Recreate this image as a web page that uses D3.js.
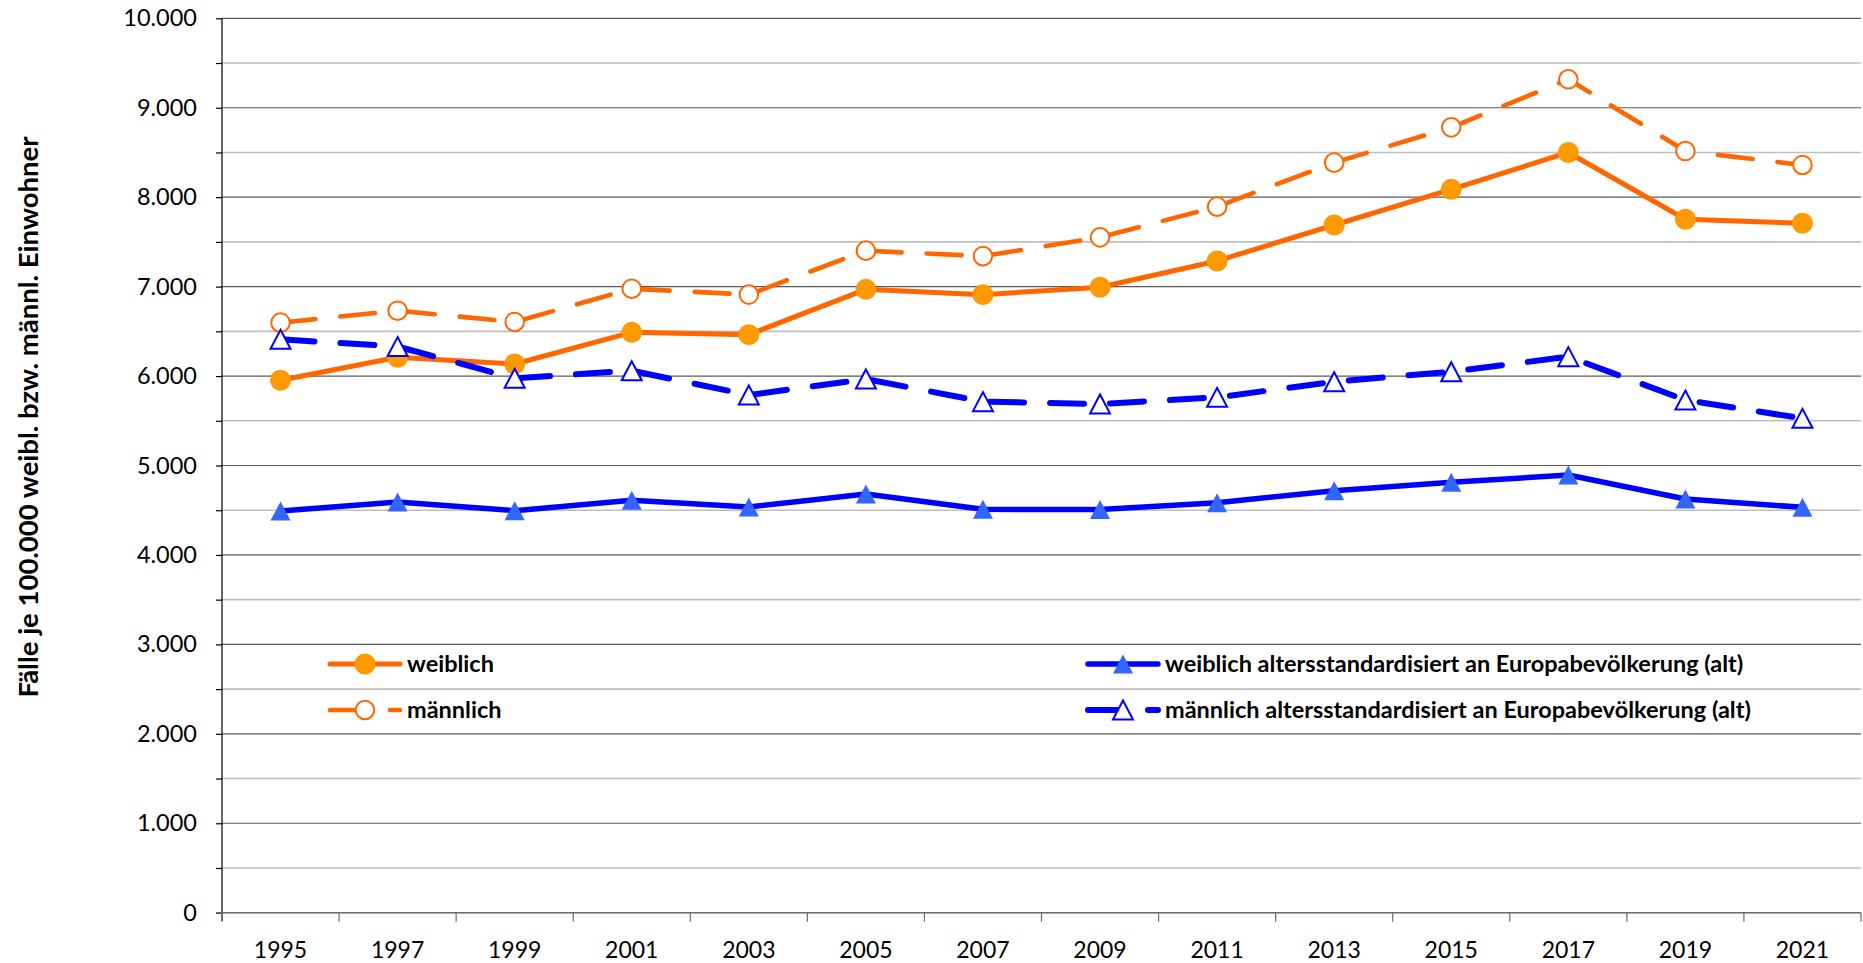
<!DOCTYPE html>
<html>
<head>
<meta charset="utf-8">
<script src="https://cdn.jsdelivr.net/npm/d3@7"></script>
<style>
  html, body { margin: 0; padding: 0; background: #fff; }
  svg { display: block; font-family: Lato, "Open Sans", sans-serif; }
</style>
</head>
<body>
<svg id="chart" width="1863" height="963"></svg>
<script>
// Jahre (Kategorien der x-Achse)
const years = ["1995", "1997", "1999", "2001", "2003", "2005", "2007",
               "2009", "2011", "2013", "2015", "2017", "2019", "2021"];

// Fälle je 100.000 Einwohner
const weiblich     = [5953, 6210, 6135, 6489, 6463, 6970, 6910, 6993, 7287, 7689, 8088, 8500, 7753, 7708];
const maennlich    = [6597, 6731, 6605, 6977, 6911, 7402, 7341, 7551, 7894, 8386, 8781, 9318, 8516, 8360];
const weiblichStd  = [4491, 4592, 4495, 4611, 4536, 4681, 4510, 4507, 4584, 4718, 4812, 4894, 4625, 4532];
const maennlichStd = [6411, 6330, 5975, 6060, 5788, 5967, 5714, 5688, 5762, 5937, 6049, 6217, 5732, 5527];

// Achsenbeschriftung
const yTicks = [0, 1000, 2000, 3000, 4000, 5000, 6000, 7000, 8000, 9000, 10000];
const yTitle = "Fälle je 100.000 weibl. bzw. männl. Einwohner";

const seriesDefs = [
  { name: "weiblich", values: weiblich, line: "#ff6600", width: 5, dash: null,
    marker: "circle", fill: "#ff9900", stroke: "none" },
  { name: "männlich", values: maennlich, line: "#ff6600", width: 4.6, dash: "35,25",
    marker: "circle", fill: "#ffffff", stroke: "#ff6600" },
  { name: "weiblich altersstandardisiert an Europabevölkerung (alt)", values: weiblichStd,
    line: "#0000ff", width: 5.5, dash: null, marker: "triangle", fill: "#3366ff", stroke: "none" },
  { name: "männlich altersstandardisiert an Europabevölkerung (alt)", values: maennlichStd,
    line: "#0000ff", width: 6, dash: "34,26", marker: "triangle", fill: "#ffffff", stroke: "#0000ff" }
];

const svg = d3.select("#chart");
const plot = { left: 222, right: 1861, top: 18.3, bottom: 912.7 };

const x = d3.scaleBand().domain(years).range([plot.left, plot.right]).padding(0);
const y = d3.scaleLinear().domain([0, 10000]).range([plot.bottom, plot.top]);
const cx = d => x(d) + x.bandwidth() / 2;

const de = d3.formatLocale({ decimal: ",", thousands: ".", grouping: [3], currency: ["", " €"] });
const fmt = de.format(",");

// Gitternetz: Hauptlinien je 1.000, Hilfslinien je 500
const minor = d3.range(500, 10000, 1000);
svg.append("g").selectAll("line").data(minor).join("line")
  .attr("x1", plot.left).attr("x2", plot.right)
  .attr("y1", d => y(d)).attr("y2", d => y(d))
  .attr("stroke", "#bfbfbf").attr("stroke-width", 1.6);
svg.append("g").selectAll("line").data(yTicks.filter(d => d > 0)).join("line")
  .attr("x1", plot.left).attr("x2", plot.right)
  .attr("y1", d => y(d)).attr("y2", d => y(d))
  .attr("stroke", "#5a5a5a").attr("stroke-width", 1.2);

// y-Achse
const yAxis = d3.axisLeft(y).tickValues(d3.range(0, 10001, 500))
  .tickSize(6).tickFormat(d => d % 1000 === 0 ? fmt(d) : "");
const gy = svg.append("g").attr("transform", `translate(${plot.left},0)`).call(yAxis);
gy.select(".domain").remove();
gy.selectAll(".tick line").attr("stroke", "#000").attr("stroke-width", 1.2);
gy.selectAll(".tick text").attr("x", -25).attr("font-size", 23.5).attr("fill", "#000")
  .attr("font-family", "Lato, sans-serif");
svg.append("line").attr("x1", plot.left).attr("x2", plot.left)
  .attr("y1", plot.top).attr("y2", plot.bottom + 8)
  .attr("stroke", "#000").attr("stroke-width", 1.2);

// x-Achse
svg.append("line").attr("x1", plot.left - 6).attr("x2", plot.right)
  .attr("y1", plot.bottom).attr("y2", plot.bottom)
  .attr("stroke", "#6a6a6a").attr("stroke-width", 1.6);
const bounds = years.map(d => x(d)).concat([x(years[years.length - 1]) + x.bandwidth()]);
svg.append("g").selectAll("line").data(bounds).join("line")
  .attr("x1", d => d).attr("x2", d => d)
  .attr("y1", plot.bottom).attr("y2", plot.bottom + 9)
  .attr("stroke", "#6a6a6a").attr("stroke-width", 1.2);
svg.append("g").selectAll("text").data(years).join("text")
  .attr("x", d => cx(d)).attr("y", 958)
  .attr("text-anchor", "middle").attr("font-size", 23).attr("fill", "#000")
  .text(d => d);

// Titel der y-Achse
svg.append("text")
  .attr("transform", "translate(38,417) rotate(-90)")
  .attr("text-anchor", "middle").attr("font-size", 27.5).attr("font-weight", "bold")
  .attr("fill", "#000").text(yTitle);

// Symbole
const triW = 20, triH = 19;
const triPath = `M0,${-triH / 2}L${triW / 2},${triH / 2}L${-triW / 2},${triH / 2}Z`;
function drawMarker(g, s, px, py) {
  if (s.marker === "circle") {
    const filled = s.stroke === "none";
    g.append("circle").attr("cx", px).attr("cy", py).attr("r", filled ? 10.5 : 9.3)
      .attr("fill", s.fill).attr("stroke", s.stroke).attr("stroke-width", 2);
  } else {
    g.append("path").attr("d", triPath).attr("transform", `translate(${px},${py})`)
      .attr("fill", s.fill).attr("stroke", s.stroke).attr("stroke-width", 2);
  }
}

// Datenreihen
const line = d3.line().x(d => cx(d.year)).y(d => y(d.v));
seriesDefs.forEach(s => {
  const pts = years.map((yr, i) => ({ year: yr, v: s.values[i] }));
  const g = svg.append("g");
  g.append("path").datum(pts).attr("d", line)
    .attr("fill", "none").attr("stroke", s.line).attr("stroke-width", s.width)
    .attr("stroke-linejoin", "round").attr("stroke-linecap", "round")
    .attr("stroke-dasharray", s.dash);
  pts.forEach(p => drawMarker(g, s, cx(p.year), y(p.v)));
});

// Legende
const legendPos = [
  { x0: 330, x1: 400, tx: 407, y: 664 },
  { x0: 330, x1: 400, tx: 407, y: 710 },
  { x0: 1088, x1: 1158, tx: 1165, y: 664 },
  { x0: 1088, x1: 1158, tx: 1165, y: 710 }
];
seriesDefs.forEach((s, i) => {
  const p = legendPos[i];
  const g = svg.append("g");
  g.append("line").attr("x1", p.x0).attr("x2", p.x1).attr("y1", p.y).attr("y2", p.y)
    .attr("stroke", s.line).attr("stroke-width", s.width)
    .attr("stroke-linecap", "round").attr("stroke-dasharray", s.dash);
  drawMarker(g, s, (p.x0 + p.x1) / 2, p.y);
  g.append("text").attr("x", p.tx).attr("y", p.y).attr("dy", "0.36em")
    .attr("font-size", 23.5).attr("font-weight", "bold").attr("fill", "#000")
    .text(s.name);
});
</script>
</body>
</html>
